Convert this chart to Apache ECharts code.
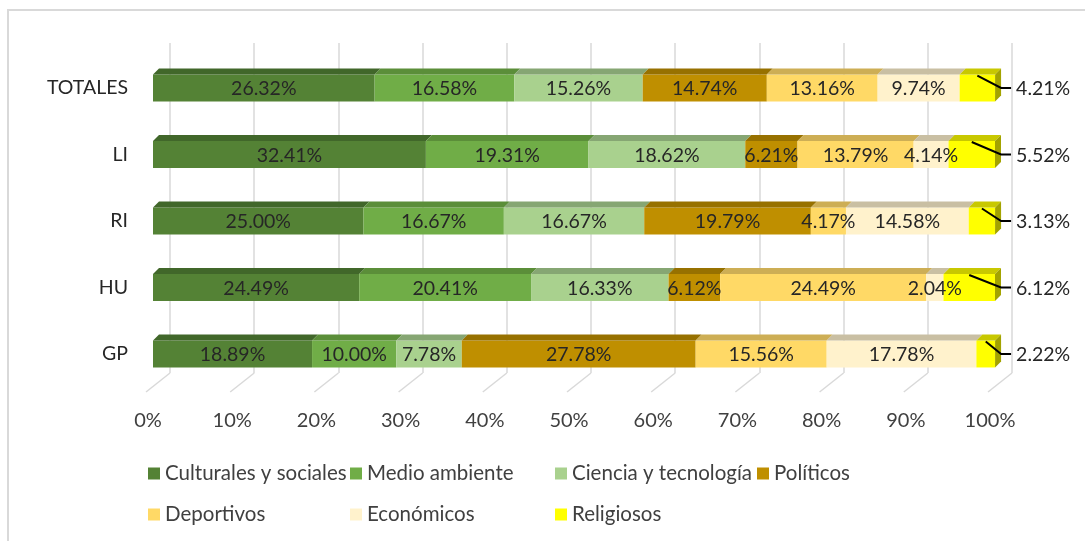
<!DOCTYPE html>
<html><head><meta charset="utf-8">
<script src="https://cdn.jsdelivr.net/npm/echarts@6/dist/echarts.min.js"></script>
<style>html,body{margin:0;padding:0;background:#fff}#c{width:1085px;height:541px}</style>
</head><body><div id="c"></div>
<script>
const categories = ['TOTALES', 'LI', 'RI', 'HU', 'GP'];
const seriesNames = ['Culturales y sociales', 'Medio ambiente', 'Ciencia y tecnología', 'Políticos', 'Deportivos', 'Económicos', 'Religiosos'];
const culturales = [26.32, 32.41, 25.00, 24.49, 18.89];
const medioAmbiente = [16.58, 19.31, 16.67, 20.41, 10.00];
const ciencia = [15.26, 18.62, 16.67, 16.33, 7.78];
const politicos = [14.74, 6.21, 19.79, 6.12, 27.78];
const deportivos = [13.16, 13.79, 4.17, 24.49, 15.56];
const economicos = [9.74, 4.14, 14.58, 2.04, 17.78];
const religiosos = [4.21, 5.52, 3.13, 6.12, 2.22];
const tickValues = [0, 10, 20, 30, 40, 50, 60, 70, 80, 90, 100];

const allValues = [culturales, medioAmbiente, ciencia, politicos, deportivos, economicos, religiosos];
const frontColors = ['#548235', '#70ad47', '#a9d18e', '#bf8f00', '#ffd966', '#fff2cc', '#ffff00'];
const topColors = ['#41672a', '#5b8e39', '#86a673', '#977100', '#cdae55', '#c9bfa3', '#c8c800'];
const sideColor = '#a3a300';
const FONT = 'Lato';

// cumulative stacking from the arrays
const cum = categories.map(() => 0);
const series = [];
allValues.forEach((vals, s) => {
  const data = vals.map((v, i) => {
    const st = cum[i]; cum[i] += v;
    return [i, st, cum[i], v];
  });
  const isLast = s === allValues.length - 1;
  series.push({
    type: 'custom',
    name: seriesNames[s],
    xAxisIndex: 0, yAxisIndex: 0,
    itemStyle: { color: frontColors[s] },
    encode: { x: [1, 2], y: 0 },
    z: 5,
    renderItem: function (params, api) {
      const cat = api.value(0), st = api.value(1), en = api.value(2), val = api.value(3);
      const a = api.coord([st, cat]);
      const b = api.coord([en, cat]);
      const h = api.size([0, 1])[1] * 0.405;
      const yc = a[1];
      const yt = yc - h / 2, yb = yc + h / 2, d = 6;
      const x0 = a[0], x1 = b[0];
      const children = [
        { type: 'rect', shape: { x: x0, y: yt, width: x1 - x0, height: h }, style: { fill: frontColors[s] } },
        { type: 'polygon', shape: { points: [[x0, yt], [x0 + d, yt - d], [x1 + d, yt - d], [x1, yt]] }, style: { fill: topColors[s] } }
      ];
      const label = val.toFixed(2) + '%';
      if (isLast) {
        children.push({ type: 'polygon', shape: { points: [[x1, yt], [x1 + d, yt - d], [x1 + d, yb - d], [x1, yb]] }, style: { fill: sideColor } });
        children.push({ type: 'polyline', z2: 50, shape: { points: [[(x0 + x1) / 2, yt + 1], [x1 + 6, yc], [x1 + 16, yc]] }, style: { stroke: '#000', lineWidth: 2, fill: null } });
        children.push({ type: 'text', z2: 100, style: { text: label, x: x1 + 21, y: yc + 1, align: 'left', verticalAlign: 'middle', fill: '#262626', fontSize: 19.5, fontFamily: FONT } });
      } else {
        children.push({ type: 'text', z2: 100, style: { text: label, x: (x0 + x1) / 2, y: yc + 1, align: 'center', verticalAlign: 'middle', fill: '#262626', fontSize: 19.5, fontFamily: FONT } });
      }
      return { type: 'group', children: children };
    },
    data: data
  });
});

// floor slant lines from gridlines
series.push({
  type: 'custom',
  xAxisIndex: 1, yAxisIndex: 1,
  silent: true,
  z: 1,
  renderItem: function (params, api) {
    const p = api.coord([api.value(0), 0]);
    return { type: 'line', shape: { x1: p[0], y1: p[1], x2: p[0] - 24, y2: p[1] + 19 }, style: { stroke: '#d9d9d9', lineWidth: 1.5 } };
  },
  data: tickValues.map(v => [v, 0])
});

const legendPos = [
  [148, 463], [350, 463], [555, 463], [757, 463],
  [148, 504], [350, 504], [555, 504]
];
const legends = seriesNames.map((n, i) => ({
  data: [n], left: legendPos[i][0], top: legendPos[i][1], padding: 0,
  icon: 'rect', itemWidth: 12, itemHeight: 12, itemGap: 0,
  textStyle: { fontSize: 20.5, fontFamily: FONT, color: '#404040', padding: [0, 0, 0, 0] },
  selectedMode: false
}));

const chart = echarts.init(document.getElementById('c'), null, { renderer: 'canvas' });
chart.setOption({
  animation: false,
  backgroundColor: '#fff',
  graphic: [{ type: 'rect', shape: { x: 8, y: 10, width: 1120, height: 580 }, style: { fill: 'none', stroke: '#d9d9d9', lineWidth: 2 }, z: -1 }],
  legend: legends,
  grid: [
    { left: 153, width: 842, top: 54.75, height: 332.5 },
    { left: 170, width: 842, top: 43, height: 330 },
    { left: 148, width: 842, top: 380, height: 12 }
  ],
  xAxis: [
    { gridIndex: 0, type: 'value', min: 0, max: 100, show: false },
    { gridIndex: 1, type: 'value', min: 0, max: 100, interval: 10, axisLine: { show: false }, axisTick: { show: false }, axisLabel: { show: false }, splitLine: { show: true, lineStyle: { color: '#d9d9d9', width: 1.5 } } },
    { gridIndex: 2, type: 'value', min: 0, max: 100, interval: 10, axisLine: { show: false }, axisTick: { show: false }, splitLine: { show: false },
      axisLabel: { formatter: '{value}%', margin: 19, fontSize: 20, fontFamily: FONT, color: '#404040' } }
  ],
  yAxis: [
    { gridIndex: 0, type: 'category', data: categories, inverse: true, axisLine: { show: false }, axisTick: { show: false }, splitLine: { show: false },
      axisLabel: { margin: 25, fontSize: 19.5, fontFamily: FONT, color: '#262626', padding: [11, 0, 0, 0] } },
    { gridIndex: 1, type: 'value', min: 0, max: 1, show: false, splitLine: { show: false } },
    { gridIndex: 2, type: 'value', min: 0, max: 1, show: false, splitLine: { show: false } }
  ],
  series: series
});
</script>
</body></html>
